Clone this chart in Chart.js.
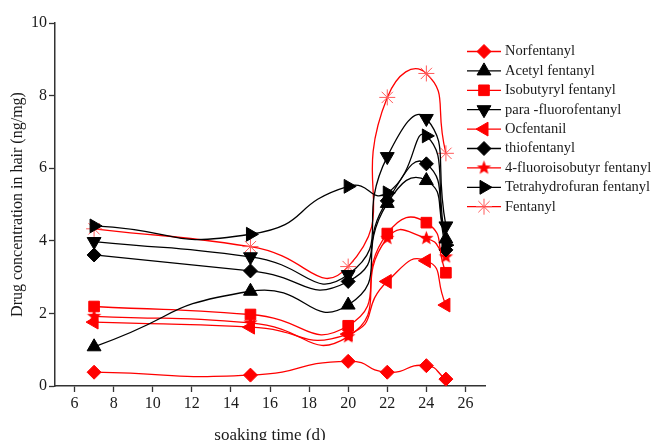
<!DOCTYPE html>
<html><head><meta charset="utf-8">
<script src="https://cdn.jsdelivr.net/npm/chart.js@4/dist/chart.umd.min.js"></script>
<style>html,body{margin:0;padding:0;background:#fff}canvas{display:block}</style>
</head><body>
<canvas id="c" width="654" height="440"></canvas>
<script>
// ---- data ----
const soakingDays = [7, 15, 20, 22, 24, 25];
const norfentanyl      = [0.38, 0.30, 0.68, 0.38, 0.56, 0.19];
const acetylFentanyl   = [1.08, 2.61, 2.23, 5.03, 5.66, 4.05];
const isobutyrylFent   = [2.19, 1.97, 1.66, 4.20, 4.50, 3.12];
const paraFluoroFent   = [3.98, 3.56, 3.07, 6.32, 7.37, 4.41];
const ocfentanil       = [1.76, 1.62, 1.43, 2.88, 3.45, 2.23];
const thiofentanyl     = [3.61, 3.17, 2.88, 5.10, 6.12, 3.75];
const fluoroisobutyr   = [1.92, 1.74, 1.36, 4.07, 4.07, 3.56];
const tetrahydrofuran  = [4.41, 4.18, 5.50, 5.32, 6.89, 3.88];
const fentanyl         = [4.33, 3.84, 3.29, 7.95, 8.61, 6.41];
const seriesNames = ['Norfentanyl', 'Acetyl fentanyl', 'Isobutyryl fentanyl', 'para -fluorofentanyl',
  'Ocfentanil', 'thiofentanyl', '4-fluoroisobutyr fentanyl', 'Tetrahydrofuran fentanyl', 'Fentanyl'];
const xTickValues = [6, 8, 10, 12, 14, 16, 18, 20, 22, 24, 26];
const yTickValues = [0, 2, 4, 6, 8, 10];

const RED = '#ff0000', BLACK = '#000000';

function makeStar(color, R, r) {
  const s = Math.ceil(R * 2 + 2);
  const c = document.createElement('canvas'); c.width = s; c.height = s;
  const g = c.getContext('2d'); g.fillStyle = color; g.beginPath();
  for (let i = 0; i < 10; i++) {
    const a = -Math.PI / 2 + i * Math.PI / 5, rad = i % 2 ? r : R;
    g.lineTo(s / 2 + rad * Math.cos(a), s / 2 + rad * Math.sin(a));
  }
  g.closePath(); g.fill();
  return c;
}
const starImg = makeStar(RED, 7.5, 3.2);

const seriesValues = [norfentanyl, acetylFentanyl, isobutyrylFent, paraFluoroFent, ocfentanil,
  thiofentanyl, fluoroisobutyr, tetrahydrofuran, fentanyl];
const styles = [
  {c: RED,   ps: 'rectRot',  rot: 0,   r: 7},
  {c: BLACK, ps: 'triangle', rot: 0,   r: 8},
  {c: RED,   ps: 'rect',     rot: 0,   r: 7.5},
  {c: BLACK, ps: 'triangle', rot: 180, r: 8},
  {c: RED,   ps: 'triangle', rot: 270, r: 8},
  {c: BLACK, ps: 'rectRot',  rot: 0,   r: 7},
  {c: RED,   ps: starImg,    rot: 0,   r: 7},
  {c: BLACK, ps: 'triangle', rot: 90,  r: 8},
  {c: RED,   ps: 'star',     rot: 0,   r: 8, pc: '#ff5a5a'}
];

const datasets = seriesNames.map((name, i) => ({
  label: name,
  data: soakingDays.map((d, j) => ({x: d, y: seriesValues[i][j]})),
  borderColor: styles[i].c,
  borderWidth: 1.3,
  tension: 0.6,
  pointStyle: styles[i].ps,
  pointRotation: styles[i].rot,
  pointRadius: styles[i].r,
  pointBackgroundColor: styles[i].pc || styles[i].c,
  pointBorderColor: styles[i].pc || styles[i].c,
  pointBorderWidth: 1,
  clip: false
}));

const legendPlugin = {
  id: 'refLegend',
  afterDraw(chart) {
    const ctx = chart.ctx;
    ctx.save();
    chart.data.datasets.forEach((ds, i) => {
      const y = 51.5 + i * 19.4;
      ctx.strokeStyle = ds.borderColor; ctx.lineWidth = 1.3;
      ctx.beginPath(); ctx.moveTo(467, y); ctx.lineTo(501, y); ctx.stroke();
      ctx.fillStyle = ds.pointBackgroundColor; ctx.strokeStyle = ds.pointBorderColor; ctx.lineWidth = ds.pointBorderWidth;
      Chart.helpers.drawPoint(ctx, {pointStyle: ds.pointStyle, rotation: ds.pointRotation,
        radius: ds.pointRadius, borderWidth: ds.pointBorderWidth}, 484, y);
      ctx.fillStyle = '#1a1a1a'; ctx.font = '14.5px "Liberation Serif"';
      ctx.textBaseline = 'middle'; ctx.textAlign = 'left';
      ctx.fillText(ds.label, 505, y);
    });
    ctx.restore();
  }
};

const FONT = '"Liberation Serif", "Times New Roman", serif';
new Chart(document.getElementById('c'), {
  type: 'line',
  data: {datasets},
  plugins: [legendPlugin],
  options: {
    responsive: false,
    animation: false,
    layout: {padding: {left: 0, top: 23, right: 169, bottom: 0}},
    plugins: {legend: {display: false}, tooltip: {enabled: false}},
    scales: {
      x: {
        type: 'linear', min: 5, max: 27,
        afterFit(s) { s.height = 54; },
        afterBuildTicks(s) { s.ticks = xTickValues.map(v => ({value: v})); },
        ticks: {color: '#1a1a1a', font: {family: FONT, size: 16}, padding: 2, includeBounds: false},
        grid: {drawOnChartArea: false, drawTicks: true, tickLength: 6, tickColor: '#333', tickWidth: 1.3},
        border: {display: true, color: '#333', width: 1.5},
        title: {display: true, text: 'soaking time (d)', color: '#1a1a1a',
          font: {family: FONT, size: 17}, padding: {top: 0, bottom: -6}}
      },
      y: {
        type: 'linear', min: 0, max: 10,
        afterFit(s) { s.width = 55; },
        afterBuildTicks(s) { s.ticks = yTickValues.map(v => ({value: v})); },
        ticks: {color: '#1a1a1a', font: {family: FONT, size: 16}, padding: 2},
        grid: {drawOnChartArea: false, drawTicks: true, tickLength: 6, tickColor: '#333', tickWidth: 1.3},
        border: {display: true, color: '#333', width: 1.5},
        title: {display: true, text: 'Drug concentration in hair (ng/mg)', color: '#1a1a1a',
          font: {family: FONT, size: 16}, padding: {top: 8, bottom: 0}}
      }
    }
  }
});
</script>
</body></html>
